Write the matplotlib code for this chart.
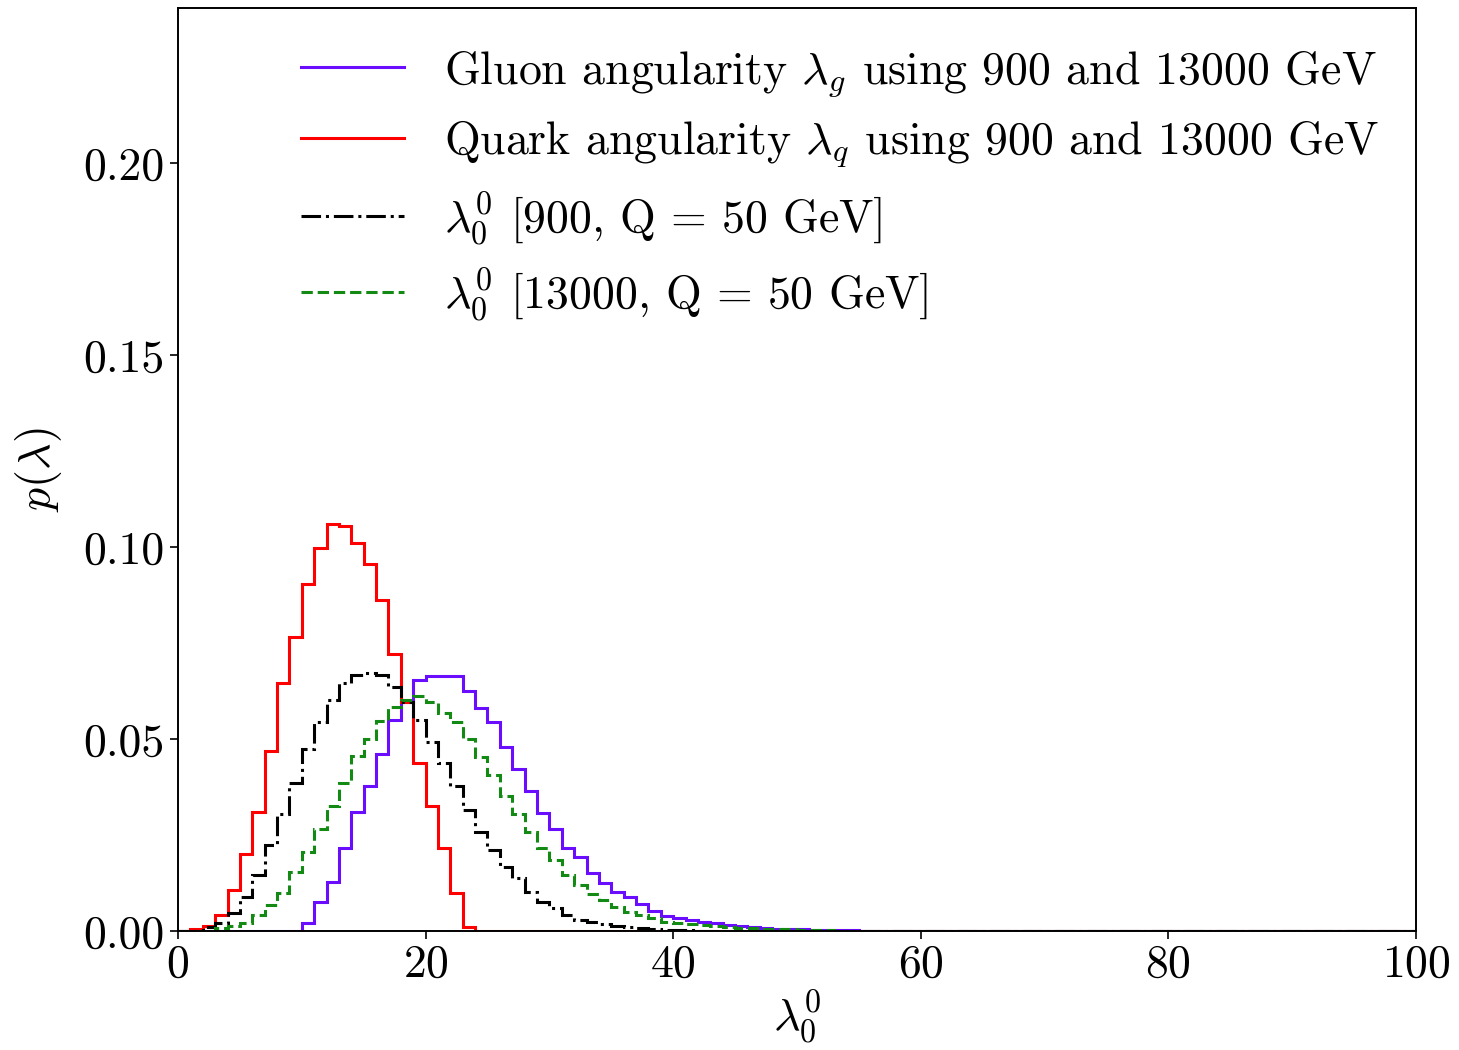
import numpy as np
import matplotlib
matplotlib.use('Agg')
import matplotlib.pyplot as plt

plt.rcParams['font.family'] = 'serif'
plt.rcParams['font.serif'] = ['cmr10']
plt.rcParams['mathtext.fontset'] = 'cm'
plt.rcParams['axes.formatter.use_mathtext'] = True
plt.rcParams['font.size'] = 33

# bin edges 0..100, width 1
edges = np.arange(0, 101, 1)

# values, each list starts at the given bin
gluon_start = 10
gluon = [0.0022, 0.0076, 0.0128, 0.0215, 0.031, 0.0378, 0.0461, 0.055, 0.0597, 0.0655,
         0.0665, 0.0664, 0.0664, 0.0626, 0.0582, 0.0545, 0.048, 0.0421, 0.0365, 0.0308,
         0.0267, 0.0215, 0.0192, 0.015, 0.0124, 0.0102, 0.0088, 0.007, 0.0053, 0.0039,
         0.0033, 0.0028, 0.0024, 0.002, 0.0016, 0.0013, 0.001, 0.0008, 0.0006, 0.0005,
         0.0004, 0.0003, 0.0002, 0.0002, 0.0002, 0.0001, 0.0001, 0.0001, 0.0001, 0.0001]

quark_start = 1
quark = [0.0005, 0.0013, 0.0043, 0.0107, 0.020, 0.031, 0.047, 0.0645, 0.0766, 0.0905,
         0.0997, 0.106, 0.1056, 0.1011, 0.0956, 0.0862, 0.0721, 0.0597, 0.0437, 0.0326,
         0.0215, 0.0098, 0.0011]

l900_start = 2
l900 = [0.001, 0.002, 0.0046, 0.0089, 0.0146, 0.0224, 0.0306, 0.0386, 0.0473, 0.0545,
        0.0602, 0.0645, 0.0667, 0.0673, 0.0667, 0.0636, 0.0597, 0.055, 0.0493, 0.0437,
        0.0378, 0.0315, 0.0259, 0.0211, 0.0167, 0.0137, 0.0101, 0.0076, 0.0059, 0.0042,
        0.003, 0.0024, 0.0018, 0.0013, 0.001, 0.0007, 0.0005, 0.0003, 0.0002, 0.0002,
        0.0001, 0.0001]

l13000_start = 3
l13000 = [0.0008, 0.0013, 0.002, 0.0042, 0.0068, 0.0098, 0.0155, 0.0205, 0.0267, 0.0326,
          0.0386, 0.0456, 0.0499, 0.0548, 0.0584, 0.0602, 0.0612, 0.0597, 0.0568, 0.0545,
          0.0499, 0.0454, 0.0406, 0.0352, 0.0306, 0.0259, 0.0215, 0.0185, 0.0146, 0.012,
          0.0096, 0.0081, 0.0063, 0.005, 0.0042, 0.0033, 0.0024, 0.002, 0.0018, 0.0015,
          0.0013, 0.0011, 0.0009, 0.0007, 0.0006, 0.0005, 0.0004, 0.0003, 0.0002, 0.0002,
          0.0001, 0.0001, 0.0001]


def full(vals, start):
    out = np.zeros(len(edges) - 1)
    out[start:start + len(vals)] = vals
    return out


fig = plt.figure(figsize=(14.59, 10.5), dpi=100)
ax = fig.add_axes([0.122, 0.1133, 0.8485, 0.8791])

lw = 2.2
ax.stairs(full(gluon, gluon_start), edges, color='#6a0dff', lw=lw,
          label=r'Gluon angularity $\lambda_g$ using 900 and 13000 GeV')
ax.stairs(full(quark, quark_start), edges, color='red', lw=lw,
          label=r'Quark angularity $\lambda_q$ using 900 and 13000 GeV')
ax.stairs(full(l900, l900_start), edges, color='black', lw=lw, ls='-.',
          label=r'$\lambda_0^0$ [900, Q = 50 GeV]')
ax.stairs(full(l13000, l13000_start), edges, color='#138a13', lw=lw, ls='--',
          label=r'$\lambda_0^0$ [13000, Q = 50 GeV]')

ax.set_xlim(0, 100)
ax.set_ylim(0, 0.2404)
ax.set_yticks([0.0, 0.05, 0.10, 0.15, 0.20])
ax.set_yticklabels(['0.00', '0.05', '0.10', '0.15', '0.20'])
ax.set_xticks([0, 20, 40, 60, 80, 100])
ax.set_xlabel(r'$\lambda_0^0$', labelpad=2)
ax.set_ylabel(r'$p(\lambda)$', labelpad=14)
for s in ax.spines.values():
    s.set_linewidth(1.4)
ax.tick_params(width=1.2, length=6)

ax.legend(loc='upper left', bbox_to_anchor=(0.066, 1.0), frameon=False,
          handlelength=2.25, labelspacing=0.43, handletextpad=0.87)

fig.savefig('out.png', dpi=100)
